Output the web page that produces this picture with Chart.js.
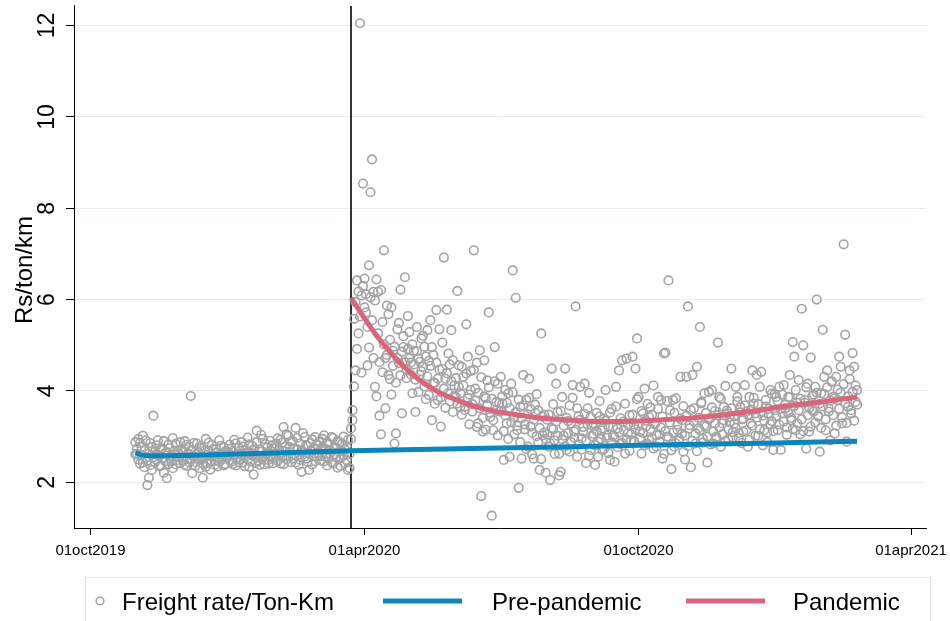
<!DOCTYPE html>
<html>
<head>
<meta charset="utf-8">
<script src="https://cdn.jsdelivr.net/npm/chart.js@4.4.1/dist/chart.umd.min.js"></script>
<style>
  html, body { margin: 0; padding: 0; background: #ffffff; }
  canvas { display: block; }
</style>
</head>
<body>
<canvas id="chart" width="950" height="621"></canvas>
<script>
// Freight rate (Rs per ton-km): two observations per day, one pair of arrays per month,
// each array starting on the date given in rateSegments
const rateOct2019A = [2.88];
const rateOct2019B = [2.61];
const rateNov2019A = [2.62, 2.95, 2.41, 2.78, 3.02, 2.33, 2.55, 1.94, 2.10, 2.86, 2.27, 3.46, 2.68, 2.49, 2.92,
                      2.58, 2.37, 2.74, 2.21, 2.64, 2.09, 2.83, 2.52, 2.45, 2.97, 2.61, 2.39, 2.70, 2.55, 2.88];
const rateNov2019B = [2.74, 2.50, 2.86, 2.59, 2.43, 2.69, 2.92, 2.47, 2.63, 2.38, 2.77, 2.55, 2.44, 2.81, 2.60,
                      2.35, 2.71, 2.52, 2.90, 2.46, 2.66, 2.40, 2.75, 2.58, 2.31, 2.68, 2.84, 2.49, 2.62, 2.42];
const rateDec2019A = [2.71, 2.48, 2.90, 2.36, 2.63, 2.79, 3.89, 2.20, 2.57, 2.44, 2.85, 2.66, 2.31, 2.74, 2.10,
                      2.53, 2.95, 2.42, 2.68, 2.28, 2.81, 2.59, 2.47, 2.73, 2.35, 2.92, 2.61, 2.50, 2.77, 2.40, 2.66];
const rateDec2019B = [2.55, 2.67, 2.39, 2.82, 2.51, 2.44, 2.70, 2.58, 2.86, 2.36, 2.62, 2.49, 2.78, 2.53, 2.41,
                      2.69, 2.34, 2.60, 2.87, 2.46, 2.57, 2.73, 2.38, 2.64, 2.52, 2.45, 2.80, 2.56, 2.37, 2.68, 2.59];
const rateJan2020A = [2.58, 2.82, 2.45, 2.69, 2.93, 2.37, 2.62, 2.76, 2.51, 2.88, 2.43, 2.70, 2.56, 2.98, 2.34,
                      2.65, 2.80, 2.17, 2.60, 3.13, 2.47, 2.72, 3.04, 2.55, 2.39, 2.84, 2.63, 2.49, 2.91, 2.68, 2.42];
const rateJan2020B = [2.66, 2.48, 2.74, 2.40, 2.57, 2.85, 2.52, 2.44, 2.69, 2.61, 2.78, 2.35, 2.64, 2.50, 2.83,
                      2.46, 2.59, 2.72, 2.42, 2.88, 2.55, 2.38, 2.67, 2.95, 2.49, 2.62, 2.76, 2.41, 2.58, 2.81, 2.53];
const rateFeb2020A = [2.74, 2.55, 2.96, 2.63, 2.41, 2.87, 3.21, 2.68, 2.50, 3.02, 2.77, 2.44, 2.91, 2.60, 3.19,
                      2.72, 2.38, 2.85, 2.23, 2.66, 2.99, 2.52, 2.80, 2.27, 2.69, 2.94, 2.58, 2.46, 2.83];
const rateFeb2020B = [2.62, 2.84, 2.47, 2.71, 2.93, 2.55, 2.40, 2.78, 3.05, 2.58, 2.66, 2.89, 2.52, 2.74, 2.43,
                      2.97, 2.61, 2.49, 2.70, 3.08, 2.56, 2.82, 2.45, 2.64, 2.86, 2.39, 2.73, 2.99, 2.57];
const rateMar2020PreA = [2.65, 2.90, 2.48, 2.78, 3.03, 2.56, 2.37, 2.84, 2.70, 2.44, 2.97, 2.61, 2.75, 2.32, 2.88,
                         2.53, 2.68, 3.00, 2.42, 2.79, 2.27, 2.62];
const rateMar2020PreB = [2.81, 2.57, 2.69, 2.95, 2.46, 2.73, 2.88, 2.52, 2.63, 2.99, 2.41, 2.77, 2.55, 2.91, 2.67,
                         2.36, 2.84, 2.59, 2.72, 2.49, 2.93, 2.31];
const rateMar2020LockA = [3.18, 3.58, 5.58, 4.45, 6.42, 5.26, 12.05, 6.09, 8.54];
const rateMar2020LockB = [2.95, 3.36, 4.10, 5.95, 4.92, 6.18, 5.63, 4.40, 6.30];
const rateApr2020A = [6.46, 5.72, 4.56, 6.75, 8.35, 9.07, 6.17, 4.09, 6.44, 6.17, 3.46, 3.05, 5.51, 7.08, 4.72,
                      5.87, 4.35, 5.12, 3.92, 4.88, 2.85, 3.07, 5.35, 4.61, 6.22, 3.51, 4.96, 6.49, 4.28, 5.64];
const rateApr2020B = [5.83, 6.12, 5.40, 4.95, 6.05, 5.55, 4.72, 5.98, 3.88, 5.26, 4.63, 6.21, 4.41, 5.02, 3.62,
                      4.79, 5.68, 4.26, 5.83, 4.55, 4.97, 4.18, 4.72, 5.49, 4.34, 4.86, 5.20, 4.63, 4.48, 4.92];
const rateMay2020A = [5.29, 4.62, 3.95, 4.88, 3.54, 5.40, 4.71, 4.35, 5.15, 4.53, 4.97, 3.82, 5.33, 4.66, 5.55,
                      3.36, 4.79, 4.18, 5.77, 3.80, 4.47, 3.22, 5.06, 6.92, 4.27, 5.78, 3.95, 4.58, 5.33, 3.54, 4.12];
const rateMay2020B = [4.71, 4.36, 5.02, 4.58, 4.25, 4.87, 3.98, 4.64, 4.43, 5.21, 4.10, 4.76, 4.32, 3.91, 4.55,
                      4.96, 4.18, 3.72, 4.62, 4.27, 5.35, 3.86, 4.48, 4.05, 3.63, 4.39, 4.82, 3.77, 4.21, 4.67, 3.89];
const rateJun2020A = [3.87, 6.19, 4.09, 3.65, 4.53, 4.31, 3.58, 5.46, 4.75, 3.92, 4.44, 3.71, 7.08, 4.05, 4.62,
                      3.29, 4.89, 1.70, 3.11, 4.67, 3.84, 4.23, 5.72, 3.43, 1.27, 3.14, 4.96, 3.76, 4.16, 3.55];
const rateJun2020B = [4.28, 3.72, 4.56, 3.95, 3.48, 4.12, 3.66, 4.38, 3.84, 3.27, 4.02, 3.55, 4.46, 3.79, 3.21,
                      3.96, 3.62, 4.30, 3.41, 3.88, 3.15, 3.69, 4.08, 3.52, 3.83, 3.36, 4.21, 3.58, 3.03, 3.74];
const rateJul2020A = [4.31, 3.73, 2.49, 4.02, 3.29, 3.95, 2.56, 4.16, 6.64, 3.43, 6.04, 3.14, 1.88, 3.65, 2.52,
                      4.35, 3.27, 3.81, 2.78, 4.27, 3.60, 3.08, 2.52, 3.52, 3.93, 2.87, 2.27, 5.26, 3.03, 3.48, 2.95];
const rateJul2020B = [3.56, 3.88, 3.12, 3.47, 3.74, 2.95, 3.62, 3.31, 3.97, 3.05, 3.53, 3.24, 3.81, 2.88, 3.40,
                      3.68, 3.16, 2.73, 3.49, 3.85, 3.22, 2.61, 3.37, 3.70, 3.01, 3.58, 3.19, 2.51, 3.44, 3.09, 2.21];
const rateAug2020A = [3.37, 2.78, 2.05, 4.49, 3.16, 2.92, 4.16, 3.54, 2.63, 2.23, 3.87, 3.02, 4.49, 2.71, 3.34,
                      3.68, 2.88, 4.13, 3.11, 5.85, 2.56, 3.45, 4.09, 2.96, 3.21, 4.16, 2.42, 3.62, 3.96, 2.71, 3.25];
const rateAug2020B = [3.05, 3.48, 2.86, 3.19, 3.71, 2.62, 3.33, 3.02, 2.15, 3.56, 2.94, 3.24, 2.79, 3.41, 3.08,
                      2.67, 3.29, 3.85, 2.98, 3.15, 3.62, 2.83, 3.37, 2.72, 3.11, 3.50, 2.91, 3.26, 2.58, 3.43, 3.01];
const rateSep2020A = [3.06, 2.38, 3.52, 2.89, 3.78, 3.14, 2.71, 3.39, 4.02, 2.97, 3.23, 2.49, 3.61, 3.02, 2.45,
                      4.09, 3.18, 4.45, 2.84, 4.67, 3.33, 2.63, 4.71, 3.08, 3.47, 2.92, 4.75, 3.26, 4.49, 5.15];
const rateSep2020B = [3.28, 2.81, 3.12, 2.56, 3.44, 2.95, 3.18, 2.73, 3.35, 3.02, 2.64, 3.53, 2.88, 3.21, 2.99,
                      3.66, 2.77, 3.09, 3.40, 2.86, 3.14, 3.72, 2.94, 3.27, 2.69, 3.05, 3.48, 2.91, 3.16, 3.82];
const rateOct2020A = [3.87, 3.11, 2.63, 3.51, 4.05, 3.22, 2.84, 3.43, 3.64, 2.96, 4.12, 3.27, 2.78, 3.87, 3.05,
                      3.80, 2.52, 4.82, 4.84, 3.00, 6.42, 3.58, 2.29, 3.80, 2.78, 3.84, 3.15, 2.91, 4.31, 3.36, 2.67];
const rateOct2020B = [3.24, 2.97, 3.56, 3.08, 2.81, 3.35, 3.72, 2.93, 3.17, 3.48, 2.74, 3.29, 3.03, 3.61, 2.89,
                      3.20, 3.44, 2.62, 3.12, 3.78, 2.99, 3.31, 2.70, 3.09, 3.52, 2.85, 3.26, 2.96, 3.40, 3.06, 3.67];
const rateNov2020A = [2.50, 4.31, 5.85, 3.25, 2.33, 4.35, 3.62, 2.85, 4.53, 3.18, 5.40, 3.73, 2.96, 3.95, 3.22,
                      2.43, 3.98, 3.41, 4.02, 2.85, 3.56, 3.00, 5.06, 3.87, 2.78, 3.29, 3.65, 4.11, 3.51, 2.94];
const rateNov2020B = [3.02, 3.46, 2.79, 3.18, 3.58, 2.91, 3.33, 3.07, 2.68, 3.41, 3.14, 3.76, 2.87, 3.25, 3.52,
                      3.00, 3.38, 2.83, 3.64, 3.11, 3.29, 2.96, 3.47, 3.20, 3.83, 3.05, 3.36, 2.90, 3.57, 3.16];
const rateDec2020A = [3.43, 4.49, 3.10, 3.29, 4.09, 3.87, 2.97, 3.65, 3.38, 3.11, 4.13, 3.55, 2.78, 3.87, 3.29,
                      4.45, 3.72, 3.51, 4.35, 3.02, 4.09, 4.42, 3.46, 3.14, 3.80, 2.88, 3.61, 4.02, 3.34, 2.71, 3.93];
const rateDec2020B = [3.31, 3.62, 2.98, 3.45, 3.19, 3.77, 3.08, 3.53, 2.86, 3.39, 3.68, 3.14, 3.48, 2.93, 3.59,
                      3.24, 3.85, 3.02, 3.42, 3.71, 3.16, 3.55, 2.81, 3.35, 3.66, 3.09, 3.49, 3.27, 3.94, 3.12, 3.58];
const rateJan2021A = [3.87, 3.14, 4.09, 2.71, 3.51, 4.13, 3.62, 3.20, 3.87, 4.35, 3.36, 5.07, 4.75, 3.14, 3.74,
                      4.24, 3.05, 5.80, 5.00, 3.80, 2.74, 4.16, 3.11, 4.73, 3.58, 3.92, 4.09, 6.00, 3.46, 2.67, 3.95];
const rateJan2021B = [3.45, 3.78, 3.26, 3.61, 3.92, 3.33, 3.70, 3.04, 3.52, 3.86, 3.41, 3.17, 3.67, 4.02, 3.29,
                      3.58, 3.83, 3.38, 3.12, 3.74, 4.08, 3.47, 3.63, 3.22, 3.89, 3.55, 3.31, 3.96, 3.44, 3.72, 3.19];
const rateFeb2021A = [5.34, 4.31, 3.14, 4.45, 3.62, 2.92, 4.20, 3.87, 3.07, 4.31, 3.80, 4.75, 4.53, 3.29, 7.21,
                      5.23, 2.89, 3.65, 4.45, 3.51, 4.83, 4.53, 3.76, 4.02];
const rateFeb2021B = [3.66, 3.93, 3.38, 4.08, 3.55, 3.79, 4.21, 3.47, 3.84, 3.24, 4.03, 3.61, 3.96, 3.42, 4.15,
                      3.73, 3.30, 3.88, 4.26, 3.58, 3.98, 3.35, 4.12, 3.70];

const rateSegments = [
  ['2019-10-31', rateOct2019A, rateOct2019B],   ['2019-11-01', rateNov2019A, rateNov2019B],
  ['2019-12-01', rateDec2019A, rateDec2019B],   ['2020-01-01', rateJan2020A, rateJan2020B],
  ['2020-02-01', rateFeb2020A, rateFeb2020B],   ['2020-03-01', rateMar2020PreA, rateMar2020PreB],
  ['2020-03-23', rateMar2020LockA, rateMar2020LockB], ['2020-04-01', rateApr2020A, rateApr2020B],
  ['2020-05-01', rateMay2020A, rateMay2020B],   ['2020-06-01', rateJun2020A, rateJun2020B],
  ['2020-07-01', rateJul2020A, rateJul2020B],   ['2020-08-01', rateAug2020A, rateAug2020B],
  ['2020-09-01', rateSep2020A, rateSep2020B],   ['2020-10-01', rateOct2020A, rateOct2020B],
  ['2020-11-01', rateNov2020A, rateNov2020B],   ['2020-12-01', rateDec2020A, rateDec2020B],
  ['2021-01-01', rateJan2021A, rateJan2021B],   ['2021-02-01', rateFeb2021A, rateFeb2021B]
];

// Start of the lockdown period (vertical marker)
const breakDate = '2020-03-23';

// Fitted trends
const preFitDates  = ['2019-10-31', '2019-11-04', '2019-11-10', '2019-12-15', '2020-02-01', '2020-03-23',
                      '2020-06-30', '2020-10-01', '2020-12-31', '2021-02-24'];
const preFitValues = [2.65, 2.60, 2.58, 2.60, 2.64, 2.69, 2.75, 2.81, 2.86, 2.90];

const pandemicFitDates  = ['2020-03-23', '2020-04-08', '2020-04-19', '2020-04-30', '2020-05-11', '2020-05-22',
                           '2020-06-02', '2020-06-13', '2020-06-24', '2020-07-05', '2020-07-16', '2020-07-27',
                           '2020-08-07', '2020-08-18', '2020-09-10', '2020-10-02', '2020-10-11', '2020-11-02',
                           '2020-11-25', '2020-12-17', '2021-01-08', '2021-01-31', '2021-02-24'];
const pandemicFitValues = [6.04, 5.26, 4.82, 4.45, 4.16, 3.95, 3.80, 3.67, 3.58, 3.51, 3.46, 3.41,
                           3.38, 3.36, 3.33, 3.34, 3.36, 3.40, 3.47, 3.56, 3.67, 3.76, 3.87];

// Axes
const xTickDates  = ['2019-10-01', '2020-04-01', '2020-10-01', '2021-04-01'];
const xTickLabels = ['01oct2019', '01apr2020', '01oct2020', '01apr2021'];
const xRange = ['2019-09-20', '2021-04-11'];
const yTicks = [2, 4, 6, 8, 10, 12];
const yRange = [1, 12.43];
const yTitle = 'Rs/ton/km';
const seriesNames = ['Freight rate/Ton-Km', 'Pre-pandemic', 'Pandemic'];

const FONT = '"Liberation Sans", Arial, Helvetica, sans-serif';
const POINT_COLOR = '#a4a4a4';
const PRE_COLOR = '#0b85bd';
const PAN_COLOR = '#d9657f';

const ORIGIN = Date.UTC(2019, 9, 1);
function dayNum(iso) {
  const [y, m, d] = iso.split('-').map(Number);
  return Math.round((Date.UTC(y, m - 1, d) - ORIGIN) / 86400000);
}

const ratePoints = rateSegments.flatMap(([start, first, second]) => [
  ...first.map((v, i) => ({ x: dayNum(start) + i, y: v })),
  ...second.map((v, i) => ({ x: dayNum(start) + i, y: v }))
]);
const prePoints = preFitDates.map((d, i) => ({ x: dayNum(d), y: preFitValues[i] }));
const pandemicPoints = pandemicFitDates.map((d, i) => ({ x: dayNum(d), y: pandemicFitValues[i] }));

// Lockdown marker, rotated y labels, axis title, x labels and the framed legend
const decorations = {
  id: 'decorations',
  beforeDatasetsDraw(chart) {
    const { ctx, chartArea, scales } = chart;
    const px = scales.x.getPixelForValue(dayNum(breakDate));
    ctx.save();
    ctx.strokeStyle = '#1e1e1e';
    ctx.lineWidth = 1.8;
    ctx.beginPath();
    ctx.moveTo(px, chartArea.top);
    ctx.lineTo(px, chartArea.bottom);
    ctx.stroke();
    ctx.restore();
  },
  afterDraw(chart) {
    const { ctx, chartArea, scales } = chart;
    ctx.save();
    ctx.fillStyle = '#000';

    // y tick labels, rotated
    ctx.font = '23px ' + FONT;
    ctx.textAlign = 'center';
    ctx.textBaseline = 'alphabetic';
    yTicks.forEach(v => {
      const py = scales.y.getPixelForValue(v);
      ctx.save();
      ctx.translate(54, py);
      ctx.rotate(-Math.PI / 2);
      ctx.fillText(String(v), 0, 0);
      ctx.restore();
    });

    // y axis title
    ctx.font = '24px ' + FONT;
    ctx.save();
    ctx.translate(32, (chartArea.top + chartArea.bottom) / 2 + 3);
    ctx.rotate(-Math.PI / 2);
    ctx.fillText(yTitle, 0, 0);
    ctx.restore();

    // x tick labels
    ctx.font = '15px ' + FONT;
    xTickDates.forEach((d, i) => {
      const px = scales.x.getPixelForValue(dayNum(d));
      ctx.fillText(xTickLabels[i], px, 555);
    });

    // legend
    ctx.strokeStyle = '#e2eaec';
    ctx.lineWidth = 1;
    ctx.strokeRect(85.5, 577.5, 845, 60);

    const ly = 601;
    ctx.strokeStyle = POINT_COLOR;
    ctx.lineWidth = 1.6;
    ctx.beginPath();
    ctx.arc(100, ly, 3.8, 0, Math.PI * 2);
    ctx.stroke();

    ctx.lineCap = 'butt';
    ctx.lineWidth = 5;
    ctx.strokeStyle = PRE_COLOR;
    ctx.beginPath(); ctx.moveTo(383, ly); ctx.lineTo(462, ly); ctx.stroke();
    ctx.strokeStyle = PAN_COLOR;
    ctx.beginPath(); ctx.moveTo(686, ly); ctx.lineTo(765, ly); ctx.stroke();

    ctx.fillStyle = '#000';
    ctx.font = '24px ' + FONT;
    ctx.textAlign = 'left';
    ctx.fillText(seriesNames[0], 122, 610);
    ctx.fillText(seriesNames[1], 492, 610);
    ctx.fillText(seriesNames[2], 793, 610);
    ctx.restore();
  }
};

new Chart(document.getElementById('chart'), {
  type: 'scatter',
  data: {
    datasets: [
      {
        type: 'line', label: seriesNames[2], data: pandemicPoints, order: 0,
        borderColor: PAN_COLOR, borderWidth: 5, pointRadius: 0, fill: false,
        cubicInterpolationMode: 'monotone'
      },
      {
        type: 'line', label: seriesNames[1], data: prePoints, order: 1,
        borderColor: PRE_COLOR, borderWidth: 5, pointRadius: 0, fill: false,
        cubicInterpolationMode: 'monotone'
      },
      {
        label: seriesNames[0], data: ratePoints, order: 2,
        pointStyle: 'circle', pointRadius: 4.3, pointBorderWidth: 1.6,
        pointBackgroundColor: 'rgba(0,0,0,0)', pointBorderColor: POINT_COLOR,
        borderColor: POINT_COLOR, backgroundColor: 'rgba(0,0,0,0)'
      }
    ]
  },
  options: {
    responsive: false,
    devicePixelRatio: 1,
    animation: false,
    events: [],
    layout: { padding: { top: 5, right: 24, left: 0, bottom: 0 } },
    plugins: { legend: { display: false }, tooltip: { enabled: false } },
    scales: {
      x: {
        type: 'linear',
        min: dayNum(xRange[0]), max: dayNum(xRange[1]),
        afterBuildTicks: s => { s.ticks = xTickDates.map(d => ({ value: dayNum(d) })); },
        afterFit: s => { s.height = 93; },
        grid: { drawOnChartArea: false, color: '#000', tickColor: '#000', tickLength: 7, lineWidth: 1 },
        border: { display: true, color: '#000', width: 1 },
        ticks: { display: false }
      },
      y: {
        type: 'linear',
        min: yRange[0], max: yRange[1],
        afterBuildTicks: s => { s.ticks = yTicks.map(v => ({ value: v })); },
        afterFit: s => { s.width = 74; },
        grid: { color: '#e5eef0', tickColor: '#000', tickLength: 8, lineWidth: 1 },
        border: { display: true, color: '#000', width: 1 },
        ticks: { display: false }
      }
    }
  },
  plugins: [decorations]
});
</script>
</body>
</html>
